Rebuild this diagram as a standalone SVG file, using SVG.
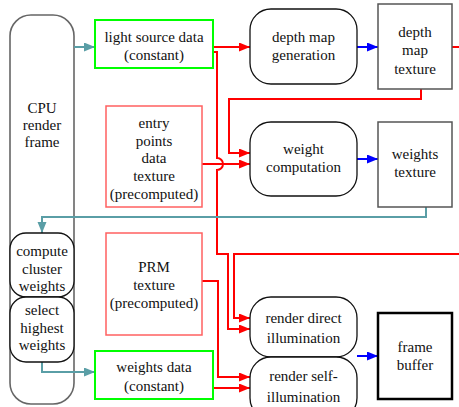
<svg xmlns="http://www.w3.org/2000/svg" width="459" height="407" viewBox="0 0 459 407">
<style>
text{font-family:'Liberation Serif',serif;font-size:15px;fill:#111;text-anchor:middle}
.proc{fill:#fff;stroke:#111;stroke-width:1.3}
.tex{fill:#fff;stroke:#555;stroke-width:1.5}
.cst{fill:#fff;stroke:#00ff00;stroke-width:2}
.pre{fill:#fff;stroke:#ff6060;stroke-width:1.5}
.r{fill:none;stroke:#ff0000;stroke-width:2}
.b{fill:none;stroke:#0000ff;stroke-width:2}
.t{fill:none;stroke:#5a9ea6;stroke-width:2}
</style>
<defs>
<marker id="ar" markerUnits="userSpaceOnUse" markerWidth="12" markerHeight="10" refX="11" refY="4.5" orient="auto"><path d="M0,0 L11,4.5 L0,9 z" fill="#ff0000"/></marker>
<marker id="ab" markerUnits="userSpaceOnUse" markerWidth="12" markerHeight="10" refX="11" refY="4.5" orient="auto"><path d="M0,0 L11,4.5 L0,9 z" fill="#0000ff"/></marker>
<marker id="at" markerUnits="userSpaceOnUse" markerWidth="12" markerHeight="10" refX="11" refY="4.5" orient="auto"><path d="M0,0 L11,4.5 L0,9 z" fill="#5a9ea6"/></marker>
</defs>
<rect width="459" height="407" fill="#fff"/>
<g id="cpu">
<rect x="10" y="15" width="64" height="389" rx="21" fill="#fff" stroke="#666" stroke-width="1.6"/>
<text x="42" y="113">CPU</text><text x="42" y="130">render</text><text x="42" y="147">frame</text>
</g>
<g id="connectors">
<path class="t" d="M74,47 H95" marker-end="url(#at)"/>
<path class="r" d="M213,47 H250" marker-end="url(#ar)"/>
<path class="b" d="M357,47 H378" marker-end="url(#ab)"/>
<path class="r" d="M452,47 H459"/>
<path class="r" d="M421,89 V99 H229 V153 H250" marker-end="url(#ar)"/>
<path class="r" d="M202,164 H250" marker-end="url(#ar)"/>
<path class="r" d="M213,52 H217 V158 A6,6 0 0 1 217,170 V254 H228 V329 H250" marker-end="url(#ar)"/>
<path class="b" d="M357,159 H378" marker-end="url(#ab)"/>
<path class="t" d="M426,207 V217 H42 V233" marker-end="url(#at)"/>
<path class="r" d="M459,254 H234 V318 H250" marker-end="url(#ar)"/>
<path class="r" d="M202,281 H218 V377 H250" marker-end="url(#ar)"/>
<path class="r" d="M213,388 H250" marker-end="url(#ar)"/>
<path class="t" d="M42,362 V372 H95" marker-end="url(#at)"/>
<path class="b" d="M357,356 H378" marker-end="url(#ab)"/>
</g>
<g id="light">
<rect class="cst" x="95" y="20" width="118" height="48"/>
<text x="154" y="42">light source data</text><text x="154" y="60">(constant)</text>
</g>
<g id="entry">
<rect class="pre" x="106" y="106" width="96" height="101"/>
<text x="154" y="128">entry</text><text x="154" y="145.5">points</text><text x="154" y="163">data</text><text x="154" y="181">texture</text><text x="154" y="198.5">(precomputed)</text>
</g>
<g id="depthgen">
<rect class="proc" x="250" y="9" width="107" height="75" rx="21"/>
<text x="303.5" y="42">depth map</text><text x="303.5" y="60">generation</text>
</g>
<g id="depthtex">
<rect class="tex" x="378" y="4" width="74" height="85"/>
<text x="415" y="37">depth</text><text x="415" y="55">map</text><text x="415" y="74">texture</text>
</g>
<g id="weightcomp">
<rect class="proc" x="250" y="122" width="107" height="74" rx="21"/>
<text x="303.5" y="154">weight</text><text x="303.5" y="172">computation</text>
</g>
<g id="weightstex">
<rect class="tex" x="378" y="122" width="74" height="85"/>
<text x="415" y="159">weights</text><text x="415" y="177">texture</text>
</g>
<g id="cluster">
<rect class="proc" x="10" y="233" width="64" height="64" rx="16"/>
<text x="42" y="256">compute</text><text x="42" y="274">cluster</text><text x="42" y="291">weights</text>
</g>
<g id="select">
<rect class="proc" x="10" y="297" width="64" height="65" rx="16"/>
<text x="42" y="315">select</text><text x="42" y="333">highest</text><text x="42" y="350">weights</text>
</g>
<g id="prm">
<rect class="pre" x="106" y="233" width="96" height="102"/>
<text x="154" y="272">PRM</text><text x="154" y="290">texture</text><text x="154" y="308">(precomputed)</text>
</g>
<g id="weightsdata">
<rect class="cst" x="95" y="351" width="118" height="48"/>
<text x="154" y="372">weights data</text><text x="154" y="391">(constant)</text>
</g>
<g id="direct">
<rect class="proc" x="250" y="297" width="107" height="60" rx="21"/>
<text x="303.5" y="323">render direct</text><text x="303.5" y="343">illumination</text>
</g>
<g id="self">
<rect class="proc" x="250" y="357" width="107" height="62" rx="21"/>
<text x="303.5" y="381">render self-</text><text x="303.5" y="402">illumination</text>
</g>
<g id="framebuffer">
<rect x="378" y="313" width="74" height="86" fill="#fff" stroke="#000" stroke-width="2.5"/>
<text x="415" y="352">frame</text><text x="415" y="370">buffer</text>
</g>
</svg>
